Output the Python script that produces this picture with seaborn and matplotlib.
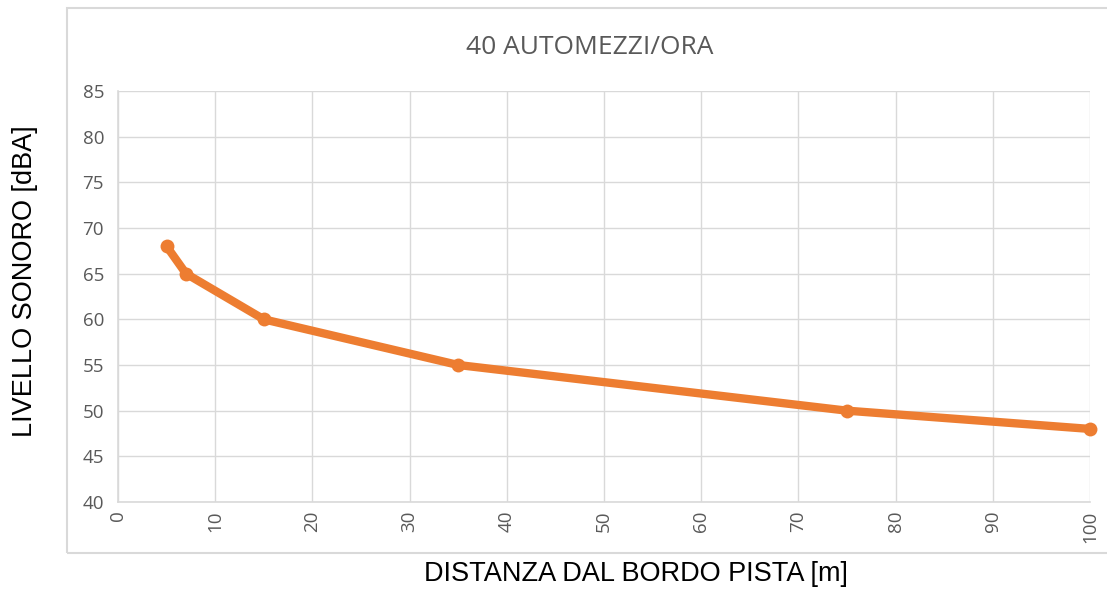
import matplotlib
matplotlib.use('Agg')
import matplotlib.pyplot as plt
import seaborn as sns
import pandas as pd
from matplotlib.patches import Rectangle

# data
distanza = [5, 7, 15, 35, 75, 100]
livello = [68, 65, 60, 55, 50, 48]
x_ticks = list(range(0, 101, 10))
y_ticks = list(range(40, 86, 5))

df = pd.DataFrame({'distanza': distanza, 'livello': livello})

sns.set_style('white')
plt.rcParams['font.family'] = ['Open Sans', 'DejaVu Sans']

fig = plt.figure(figsize=(11.07, 5.92), dpi=100)

# outer chart frame, like the excel chart area
fig.patches.append(Rectangle((67 / 1107, 1 - 553 / 592), 1.0, (553 - 8) / 592,
                             transform=fig.transFigure, fill=False,
                             edgecolor='#d9d9d9', linewidth=1.5, zorder=0))

ax = fig.add_axes([118 / 1107, 1 - 502 / 592, (1090 - 118) / 1107, (502 - 91) / 592])

sns.lineplot(data=df, x='distanza', y='livello', color='#ED7D31', linewidth=6,
             marker='o', markersize=10, markeredgewidth=0, ax=ax,
             solid_capstyle='round', clip_on=False, zorder=3)

ax.set_xlim(0, 100)
ax.set_ylim(40, 85)
ax.set_xticks(x_ticks)
ax.set_yticks(y_ticks)
ax.grid(True, color='#d9d9d9', linewidth=1)
for s in ['top', 'right']:
    ax.spines[s].set_visible(False)
for s in ['left', 'bottom']:
    ax.spines[s].set_color('#d9d9d9')
    ax.spines[s].set_linewidth(1.2)
ax.tick_params(axis='both', length=0, labelsize=13.5, labelcolor='#595959')
ax.tick_params(axis='x', rotation=90, pad=6)
ax.tick_params(axis='y', pad=10)
ax.set_xlabel('')
ax.set_ylabel('')

fig.text(590 / 1107, 1 - 47 / 592, '40 AUTOMEZZI/ORA', ha='center', va='center',
         fontsize=19, color='#595959')
fig.text(636 / 1107, 1 - 574 / 592, 'DISTANZA DAL BORDO PISTA [m]', ha='center', va='center',
         fontsize=19.5, color='black', family=['Liberation Sans', 'DejaVu Sans'])
fig.text(25 / 1107, 1 - 281 / 592, 'LIVELLO SONORO [dBA]', ha='center', va='center',
         rotation=90, fontsize=19.5, color='black', family=['Liberation Sans', 'DejaVu Sans'])

fig.savefig('out.png', dpi=100)
